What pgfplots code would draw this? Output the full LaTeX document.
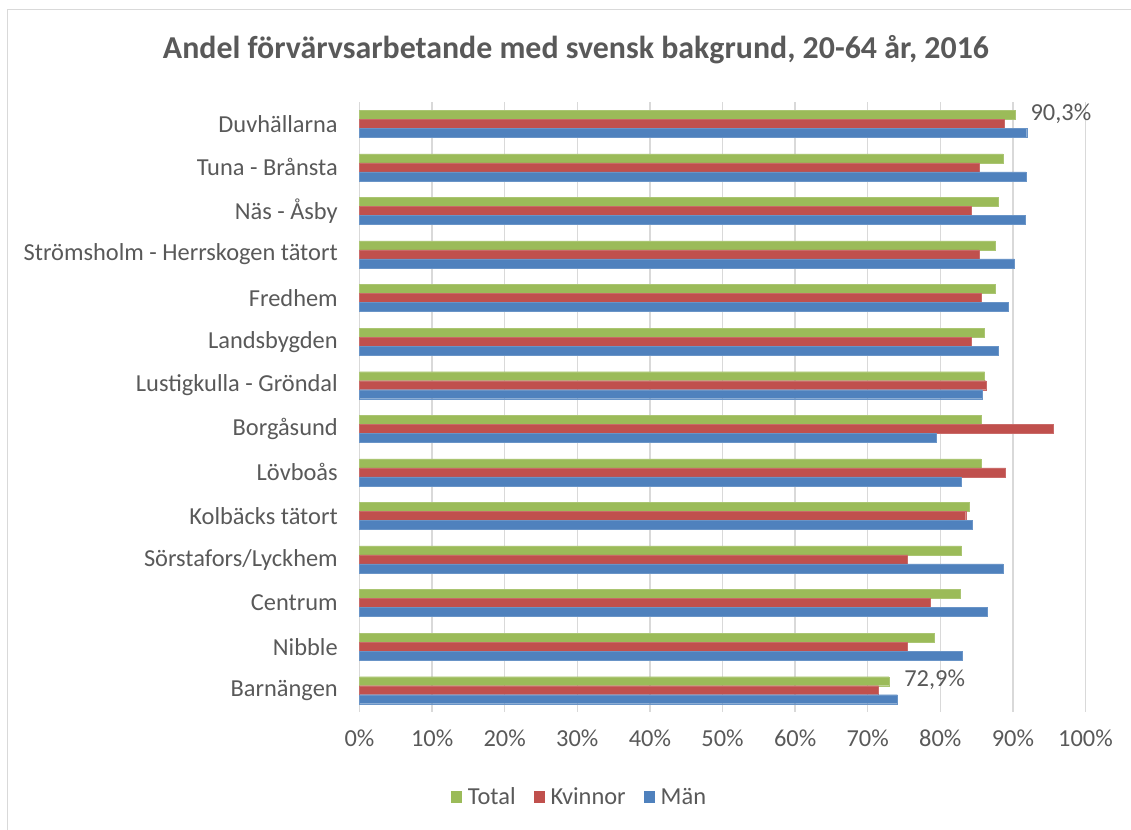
\documentclass[border=0pt]{standalone}
\usepackage{fontspec}
\setmainfont{Carlito}
\usepackage{pgfplots}
\pgfplotsset{compat=1.18}
\definecolor{cgreen}{HTML}{9BBB59}
\definecolor{cred}{HTML}{C0504D}
\definecolor{cblue}{HTML}{4F81BD}
\definecolor{ctext}{HTML}{595959}
\definecolor{cgrid}{HTML}{D9D9D9}
\begin{document}
\begin{tikzpicture}[x=1bp,y=1bp]
\path[use as bounding box] (0,0) rectangle (1131,830);
\draw[cgrid,line width=1.5bp] (7.5,0) -- (7.5,820.5) -- (1131,820.5);
\node[text=ctext,font=\fontsize{32}{38}\selectfont\bfseries] at (576,780) {Andel förvärvsarbetande med svensk bakgrund, 20-64 år, 2016};
\begin{axis}[
  at={(359.5bp,118bp)}, anchor=south west,
  scale only axis, width=726bp, height=610bp,
  xbar, bar width=9bp,
  xmin=0, xmax=100, ymin=-0.5, ymax=13.5,
  xtick={0,10,...,100},
  xticklabel={\pgfmathprintnumber{\tick}\%},
  /pgf/number format/assume math mode=true,
  ytick={0,...,13},
  yticklabels={Barnängen,Nibble,Centrum,Sörstafors/Lyckhem,Kolbäcks tätort,Lövboås,Borgåsund,Lustigkulla - Gröndal,Landsbygden,Fredhem,Strömsholm - Herrskogen tätort,Näs - Åsby,Tuna - Brånsta,Duvhällarna},
  tick style={draw=none},
  xmajorgrids, grid style={cgrid,line width=1.3bp},
  axis x line*=bottom,
  axis y line*=left,
  x axis line style={draw=none,-},
  y axis line style={cgrid,line width=1.5bp,-},
  ticklabel style={text=ctext,font=\fontsize{24.5}{29}\selectfont},
  yticklabel style={xshift=-14bp},
  xticklabel style={yshift=-14bp},
  legend style={at={(0.303,-0.139)},anchor=center,draw=none,legend columns=3,
    font=\fontsize{24.5}{29}\selectfont,text=ctext,
    /tikz/every even column/.append style={column sep=16bp}},
  legend image code/.code={\path[draw=none,fill=none] (0bp,0bp) -- (15bp,0bp); \fill[#1,draw=none] (0bp,-6bp) rectangle (11bp,6bp);},
  clip=false,
]
\addplot[fill=cgreen,draw=cgreen!85!white,bar shift=9bp,
  point meta=explicit symbolic,nodes near coords,
  every node near coord/.append style={anchor=west,text=ctext,font=\fontsize{24.5}{29}\selectfont,xshift=12bp,yshift=1bp}]
  coordinates {(72.9,0) [72,9\%] (79.1,1) [] (82.7,2) [] (82.9,3) [] (84.0,4) [] (85.6,5) [] (85.7,6) [] (86.1,7) [] (86.1,8) [] (87.5,9) [] (87.6,10) [] (88.0,11) [] (88.6,12) [] (90.3,13) [90,3\%]};
\addplot[fill=cred,draw=cred!85!white,bar shift=0bp]
  coordinates {(71.5,0) (75.4,1) (78.6,2) (75.5,3) (83.5,4) (89.0,5) (95.5,6) (86.3,7) (84.2,8) (85.6,9) (85.3,10) (84.3,11) (85.3,12) (88.8,13)};
\addplot[fill=cblue,draw=cblue!85!white,bar shift=-9bp]
  coordinates {(74.1,0) (83.0,1) (86.5,2) (88.6,3) (84.4,4) (82.9,5) (79.4,6) (85.8,7) (88.0,8) (89.3,9) (90.2,10) (91.7,11) (91.8,12) (91.9,13)};
\legend{Total,Kvinnor,Män}
\end{axis}
\end{tikzpicture}
\end{document}
